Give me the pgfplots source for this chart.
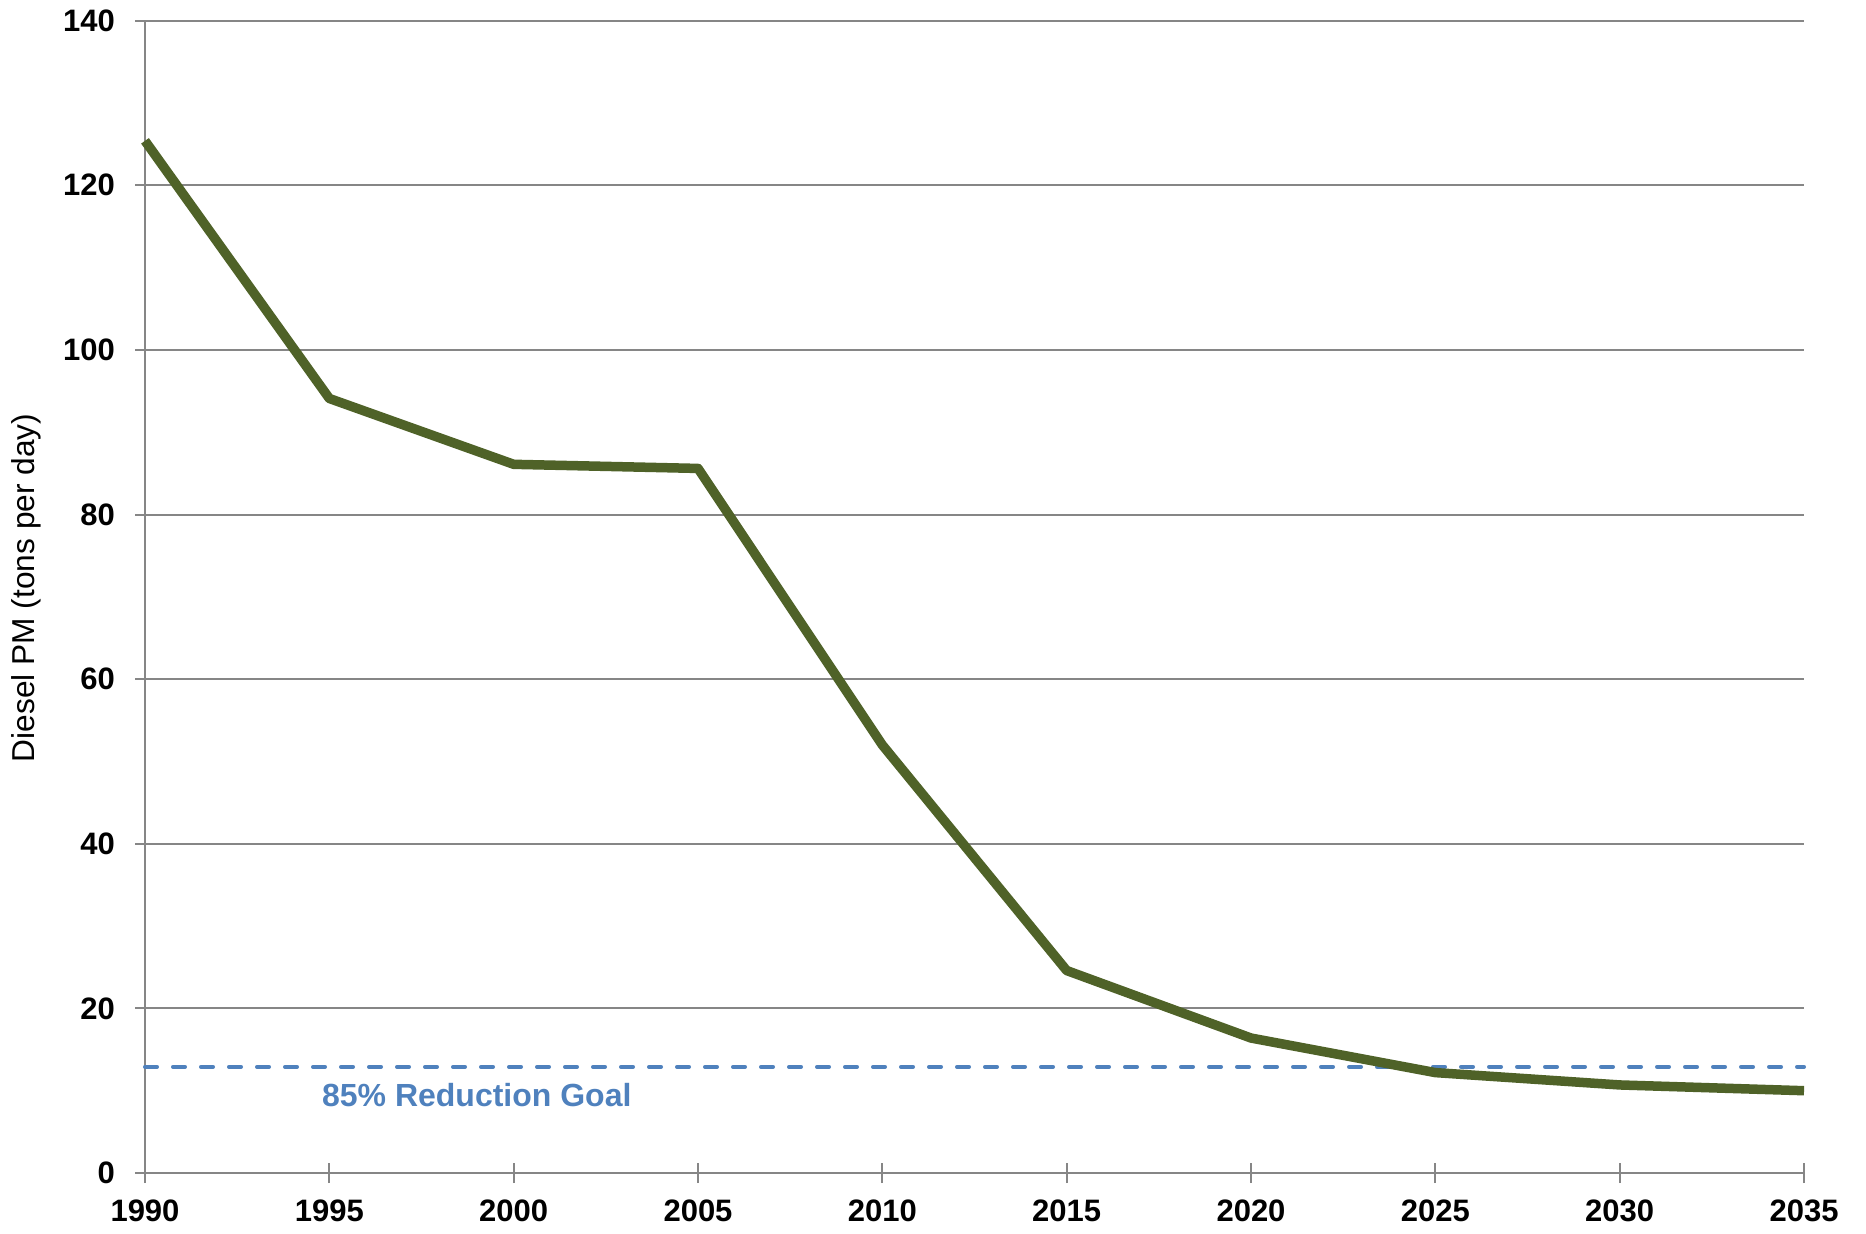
\documentclass[border=0pt]{standalone}
\usepackage{fontspec}
\setmainfont{Liberation Sans}
\usepackage{pgfplots}
\pgfplotsset{compat=1.18}
\definecolor{pmgreen}{HTML}{4F6228}
\definecolor{goalblue}{HTML}{4F81BD}
\definecolor{gridgray}{HTML}{868686}
\begin{document}
\begin{tikzpicture}
\begin{axis}[
  name=ax,
  scale only axis,
  width=497.7pt, height=345.7pt,
  xmin=1990, xmax=2035, ymin=0, ymax=140,
  xtick={1990,1995,...,2035},
  ytick={0,20,...,140},
  axis x line=bottom, axis y line=left,
  axis line style={-, draw=gridgray, line width=0.6pt},
  ymajorgrids,
  grid style={gridgray, line width=0.6pt},
  tick align=center,
  major tick length=6pt,
  tick style={gridgray, line width=0.6pt},
  /pgf/number format/assume math mode=true,
  /pgf/number format/1000 sep={},
  ticklabel style={font=\fontsize{9.3}{11}\selectfont\bfseries, black},
  xticklabel style={yshift=-1.5pt},
  yticklabel style={xshift=-2.5pt},
  ylabel={Diesel PM (tons per day)},
  ylabel style={font=\fontsize{9.5}{11}\selectfont, at={([xshift=-35.7pt,yshift=2.7pt]axis description cs:0,0.5)}, anchor=center},
  clip=false,
]
\addplot[goalblue, line width=1.2pt, line cap=round, dash pattern=on 3.6pt off 4.8pt] coordinates {(1990,12.9) (2035,12.9)};
\addplot[pmgreen, line width=2.85pt, line join=round] coordinates {
  (1990,125.4) (1995,94.1) (2000,86.1) (2005,85.6) (2010,52.0)
  (2015,24.6) (2020,16.4) (2025,12.2) (2030,10.7) (2035,10.0)};
\node[goalblue, font=\fontsize{9.6}{11}\selectfont\bfseries] at (axis cs:1999,9.5) {85\% Reduction Goal};
\end{axis}
\pgfresetboundingbox
\path[use as bounding box] ([shift={(-43.5pt,-18pt)}]ax.south west) rectangle ([shift={(18.6pt,6.2pt)}]ax.north east);
\end{tikzpicture}
\end{document}
